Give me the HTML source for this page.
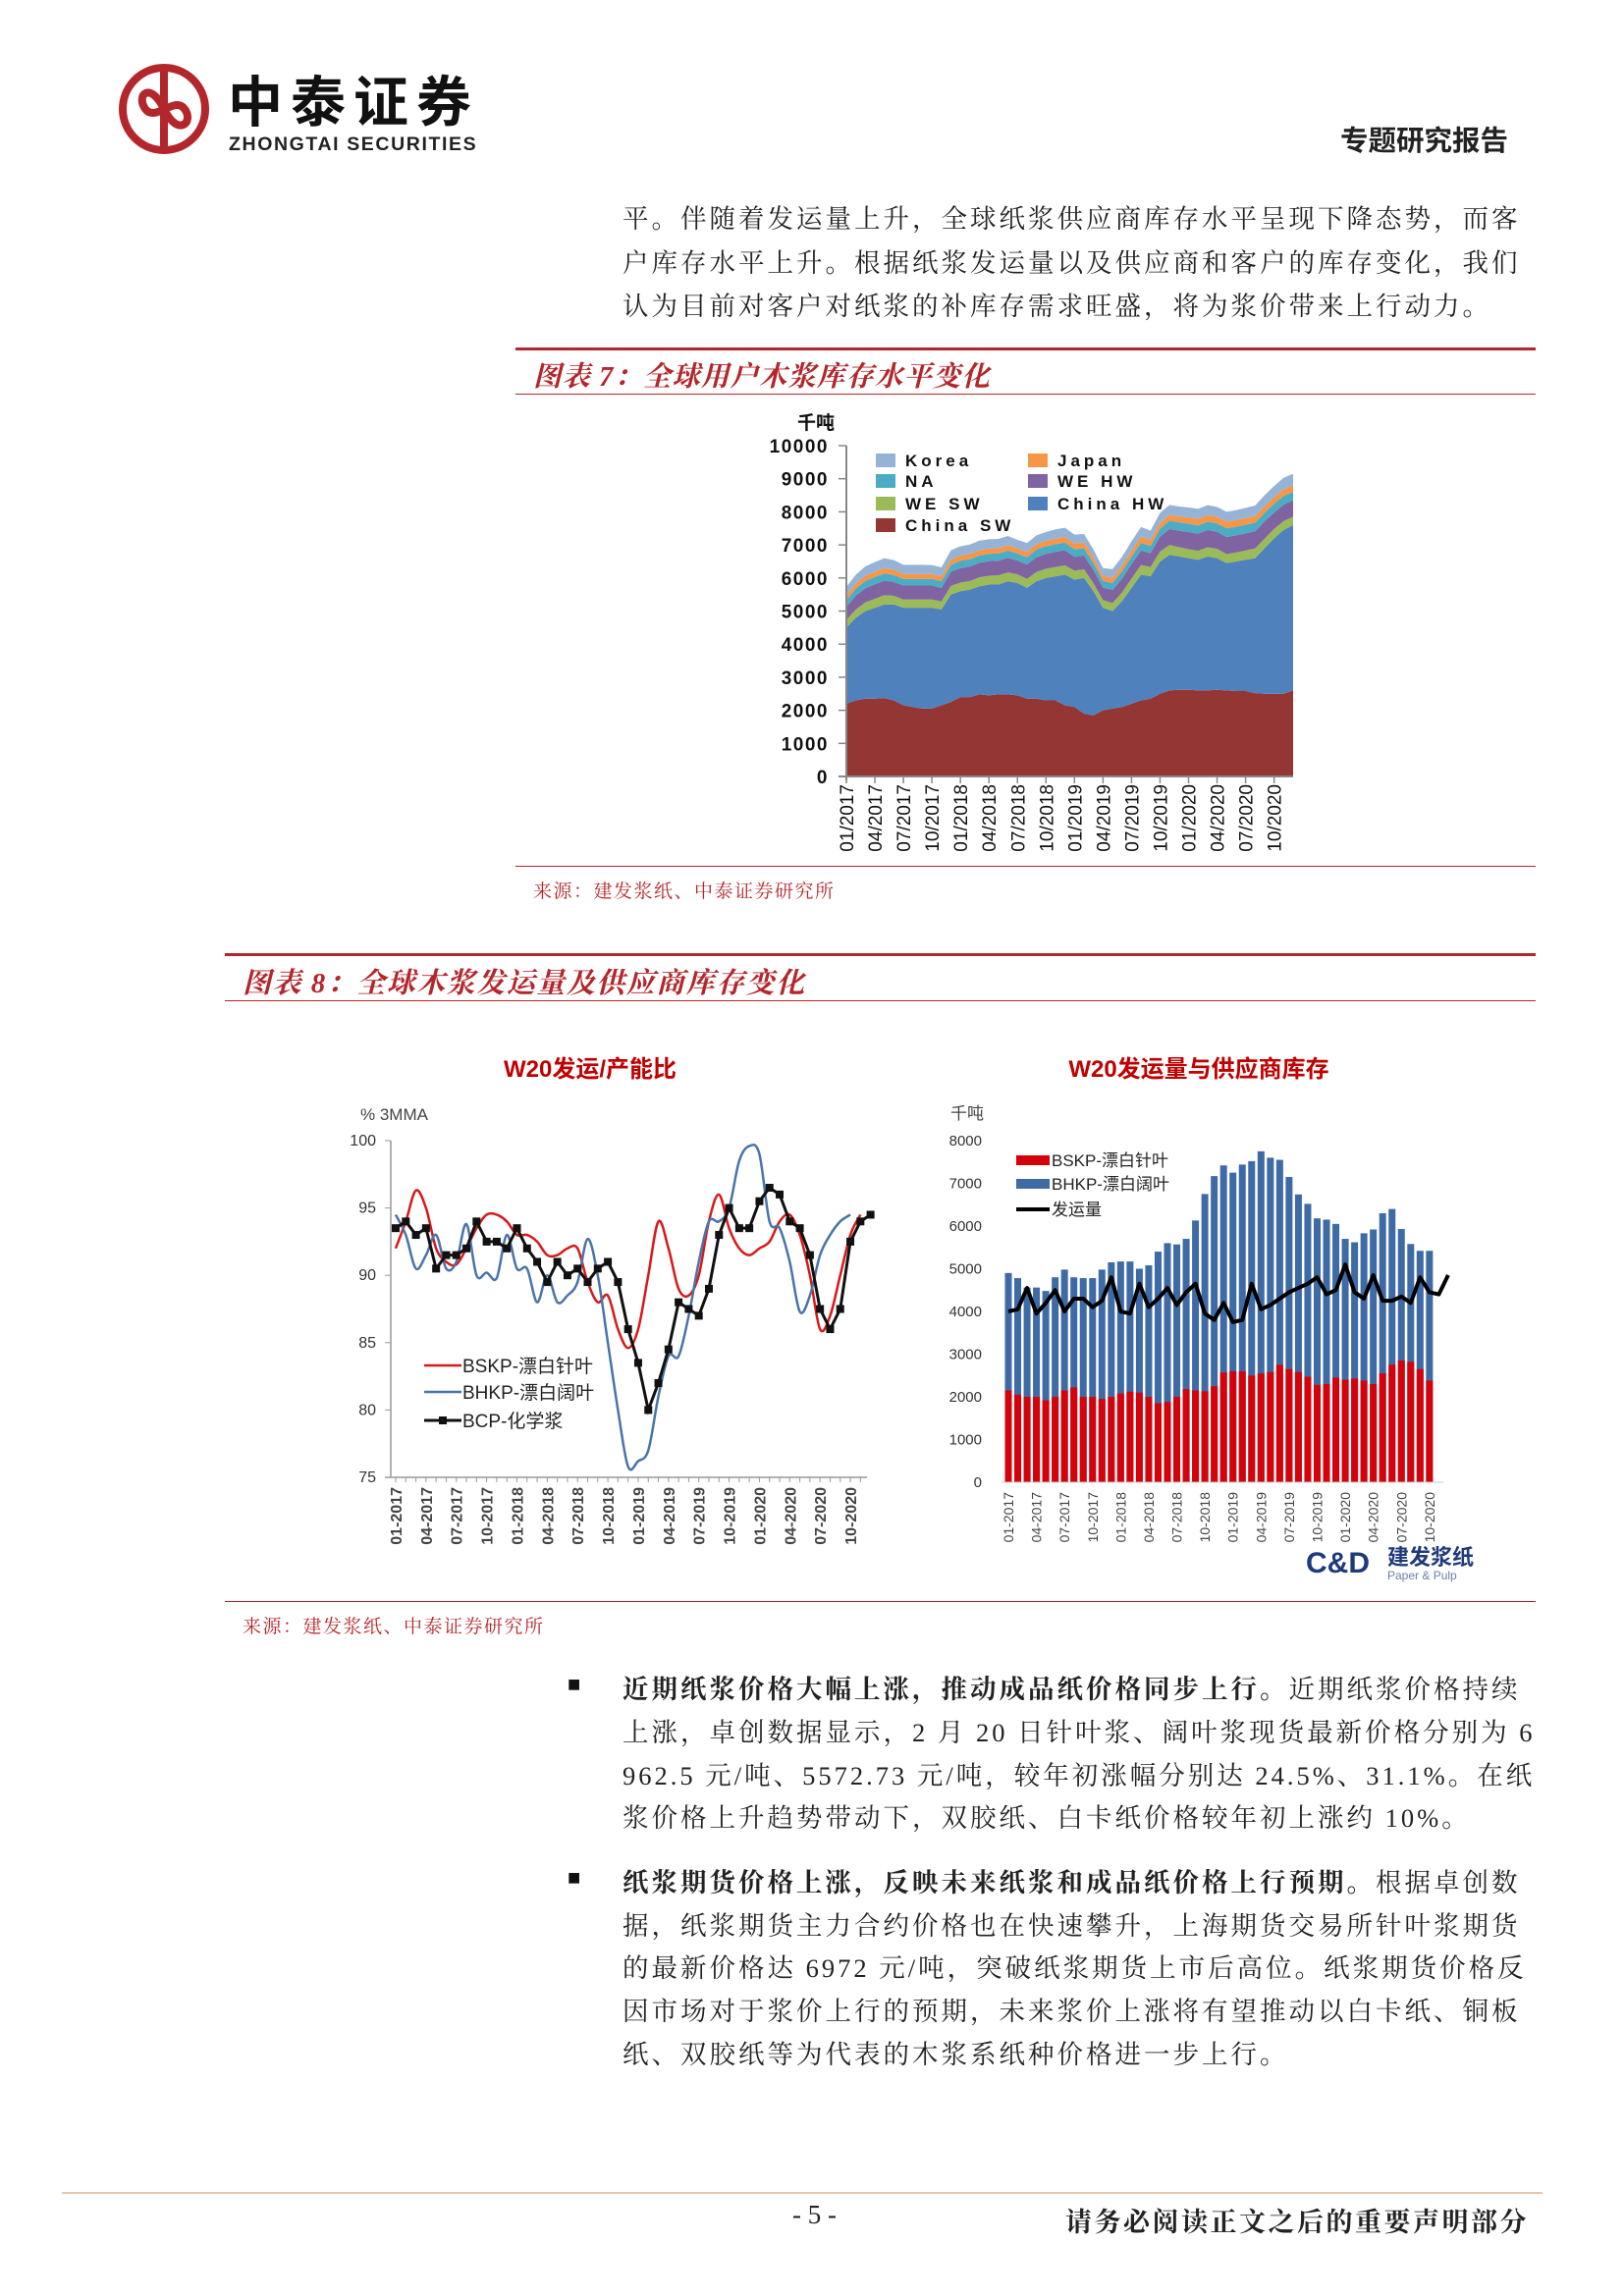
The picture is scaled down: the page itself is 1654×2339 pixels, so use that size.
<!DOCTYPE html>
<html><head><meta charset="utf-8">
<style>
body{margin:0;background:#fff;}
#page{position:relative;width:1654px;height:2339px;overflow:hidden;background:#fff;font-family:"Liberation Serif","Noto Serif CJK SC",serif;color:#222;}
.abs{position:absolute;white-space:nowrap;}
.body{font-size:26.5px;letter-spacing:3px;color:#222;}
.ft{font-family:"Liberation Sans","Noto Sans CJK SC",sans-serif;}
svg text{font-family:"Liberation Sans","Noto Sans CJK SC",sans-serif;}
</style></head><body>
<div id="page">
<svg class="abs" style="left:118px;top:62px" width="100" height="100">
<circle cx="49" cy="49" r="42" fill="none" stroke="#b3262b" stroke-width="8"/>
<path d="M49 10 V88 M49 49 C35 20 20 35 30 49 C40 63 60 35 70 49 C80 63 63 78 49 49" fill="none" stroke="#b3262b" stroke-width="8"/>
</svg>
<div class="abs ft" style="left:232px;top:60px;font-size:56px;font-weight:bold;color:#111;letter-spacing:8px">中泰证券</div>
<div class="abs ft" style="left:233px;top:136px;font-size:19.5px;font-weight:bold;color:#222;letter-spacing:1.6px">ZHONGTAI SECURITIES</div>
<div class="abs ft" style="left:1365px;top:121px;font-size:28.5px;font-weight:bold;color:#222">专题研究报告</div>

<div class="abs body" style="left:634px;top:201px">平。伴随着发运量上升，全球纸浆供应商库存水平呈现下降态势，而客</div>
<div class="abs body" style="left:634px;top:246px">户库存水平上升。根据纸浆发运量以及供应商和客户的库存变化，我们</div>
<div class="abs body" style="left:634px;top:290px">认为目前对客户对纸浆的补库存需求旺盛，将为浆价带来上行动力。</div>

<div class="abs" style="left:525px;top:354px;width:1039px;height:3px;background:#b3262b"></div>
<div class="abs" style="left:543px;top:361px;font-size:28.5px;font-weight:bold;font-style:italic;color:#b3262b;letter-spacing:1px">图表 7：全球用户木浆库存水平变化</div>
<div class="abs" style="left:525px;top:401px;width:1039px;height:1px;background:#b3262b"></div>
<svg id="c7" class="abs" style="left:0;top:0" width="1654" height="900"></svg>
<div class="abs" style="left:525px;top:882px;width:1039px;height:1px;background:#b3262b"></div>
<div class="abs" style="left:543px;top:893px;font-size:19px;letter-spacing:1.5px;color:#b3262b">来源：建发浆纸、中泰证券研究所</div>

<div class="abs" style="left:229px;top:971px;width:1335px;height:3px;background:#b3262b"></div>
<div class="abs" style="left:247px;top:979px;font-size:29px;font-weight:bold;font-style:italic;color:#b3262b;letter-spacing:1.5px">图表 8：全球木浆发运量及供应商库存变化</div>
<div class="abs" style="left:229px;top:1019px;width:1335px;height:1px;background:#b3262b"></div>
<svg id="c8" class="abs" style="left:0;top:0" width="1654" height="1640"></svg>
<div class="abs" style="left:229px;top:1631px;width:1335px;height:1px;background:#b3262b"></div>
<div class="abs" style="left:247px;top:1642px;font-size:19px;letter-spacing:1.5px;color:#b3262b">来源：建发浆纸、中泰证券研究所</div>

<div class="abs ft" style="left:578px;top:1703px;font-size:22px;color:#111">■</div>
<div class="abs body" style="left:634px;top:1699px"><b>近期纸浆价格大幅上涨，推动成品纸价格同步上行。</b>近期纸浆价格持续</div>
<div class="abs body" style="left:634px;top:1743px">上涨，卓创数据显示，2 月 20 日针叶浆、阔叶浆现货最新价格分别为 6</div>
<div class="abs body" style="left:634px;top:1787px">962.5 元/吨、5572.73 元/吨，较年初涨幅分别达 24.5%、31.1%。在纸</div>
<div class="abs body" style="left:634px;top:1830px">浆价格上升趋势带动下，双胶纸、白卡纸价格较年初上涨约 10%。</div>
<div class="abs ft" style="left:578px;top:1900px;font-size:22px;color:#111">■</div>
<div class="abs body" style="left:634px;top:1896px"><b>纸浆期货价格上涨，反映未来纸浆和成品纸价格上行预期。</b>根据卓创数</div>
<div class="abs body" style="left:634px;top:1940px">据，纸浆期货主力合约价格也在快速攀升，上海期货交易所针叶浆期货</div>
<div class="abs body" style="left:634px;top:1983px">的最新价格达 6972 元/吨，突破纸浆期货上市后高位。纸浆期货价格反</div>
<div class="abs body" style="left:634px;top:2027px">因市场对于浆价上行的预期，未来浆价上涨将有望推动以白卡纸、铜板</div>
<div class="abs body" style="left:634px;top:2071px">纸、双胶纸等为代表的木浆系纸种价格进一步上行。</div>

<div class="abs" style="left:63px;top:2233px;width:1508px;height:2px;background:#e8c8a8"></div>
<div class="abs" style="left:807px;top:2241px;font-size:27px">- 5 -</div>
<div class="abs" style="left:1085px;top:2242px;font-size:27px;font-weight:bold;letter-spacing:2.5px">请务必阅读正文之后的重要声明部分</div>
</div>
<script>
const NS="http://www.w3.org/2000/svg";
function mk(p,tag,at,txt){const e=document.createElementNS(NS,tag);for(const k in at)e.setAttribute(k,at[k]);if(txt!==undefined)e.textContent=txt;p.appendChild(e);return e;}
// ---------- Figure 7 data ----------
const c7Series=["China SW","China HW","WE SW","WE HW","NA","Japan","Korea"];
const c7Colors=["#943634","#4f81bd","#9bbb59","#8064a2","#4bacc6","#f79646","#95b3d7"];
const chinaSW=[2200,2300,2350,2350,2370,2300,2150,2100,2050,2050,2150,2250,2400,2400,2480,2450,2480,2480,2450,2350,2350,2300,2300,2150,2100,1900,1850,2000,2050,2100,2200,2300,2350,2500,2600,2620,2620,2600,2600,2620,2600,2580,2580,2520,2500,2500,2500,2600];
const chinaHW=[2300,2500,2650,2750,2830,2900,2950,3000,3050,3050,2900,3250,3200,3250,3270,3350,3320,3420,3400,3350,3550,3700,3750,3950,3850,4100,3750,3100,2950,3200,3500,3800,3700,4000,4100,4030,3980,3950,4050,3980,3850,3920,3970,4080,4400,4700,4950,5000];
const weSW=[230,250,260,270,280,260,250,250,250,250,240,260,260,260,270,270,280,270,260,270,280,280,280,280,270,260,240,230,240,260,280,290,280,300,300,280,270,270,280,280,270,270,280,290,290,280,270,250];
const weHW=[400,420,430,440,440,420,420,420,420,420,410,430,440,440,440,440,440,440,420,440,450,450,460,460,420,420,400,380,400,420,440,440,420,450,480,500,520,520,520,520,520,520,520,520,520,500,500,500];
const naV=[200,210,220,220,220,210,200,200,200,200,200,210,220,220,220,220,220,220,210,220,230,230,230,230,230,220,210,200,210,220,230,230,220,240,250,250,250,250,250,250,260,260,260,260,260,260,260,250];
const japanV=[150,150,160,160,160,160,150,150,150,150,150,160,160,160,160,160,160,160,150,160,160,160,170,170,170,170,160,150,160,170,180,190,180,180,180,180,190,200,200,200,200,200,200,200,200,200,200,200];
const koreaV=[250,270,280,290,300,290,280,280,280,270,270,280,280,280,290,280,280,280,260,270,270,270,280,280,270,260,250,240,260,270,280,290,280,300,300,300,300,300,300,300,300,300,310,320,330,340,350,350];
const c7Ticks=[0,1000,2000,3000,4000,5000,6000,7000,8000,9000,10000];
const c7Labels=["01/2017","04/2017","07/2017","10/2017","01/2018","04/2018","07/2018","10/2018","01/2019","04/2019","07/2019","10/2019","01/2020","04/2020","07/2020","10/2020"];
(function(){
 const s=document.getElementById('c7');
 const X0=862,X1=1317,Y0=791,Y1=454;
 const n=chinaSW.length;
 const x=i=>X0+i*(X1-X0)/(n-1);
 const y=v=>Y0-(v/10000)*(Y0-Y1);
 const layers=[chinaSW,chinaHW,weSW,weHW,naV,japanV,koreaV];
 let base=new Array(n).fill(0);
 layers.forEach((L,k)=>{
  const top=base.map((b,i)=>b+L[i]);
  let d="M"+x(0)+","+y(top[0]);
  for(let i=1;i<n;i++)d+=" L"+x(i)+","+y(top[i]);
  for(let i=n-1;i>=0;i--)d+=" L"+x(i)+","+y(base[i]);
  const p=mk(s,'path',{d:d+"Z",fill:c7Colors[k]});
  
  
  base=top;
 });
 mk(s,'line',{x1:X0,y1:Y1,x2:X0,y2:Y0+4,stroke:'#888','stroke-width':2});
 mk(s,'line',{x1:X0-8,y1:Y0,x2:X1,y2:Y0,stroke:'#888','stroke-width':2});
 c7Ticks.forEach(v=>{
  mk(s,'line',{x1:X0-8,y1:y(v),x2:X0,y2:y(v),stroke:'#888','stroke-width':1.5});
  const t=mk(s,'text',{x:X0-18,y:y(v)+7,'text-anchor':'end','font-size':19,'font-weight':'bold','letter-spacing':1.5,fill:'#111'},String(v));
  
  
 });
 c7Labels.forEach((lb,j)=>{
  const xi=x(j*3);
  mk(s,'line',{x1:xi,y1:Y0,x2:xi,y2:Y0+7,stroke:'#888','stroke-width':1.5});
  const t=mk(s,'text',{x:0,y:0,transform:`translate(${xi+7},${Y0+8}) rotate(-90)`,'text-anchor':'end','font-size':19,fill:'#111'},lb);
  
  
 });
 const u=mk(s,'text',{x:812,y:437,'font-size':19,'font-weight':'bold',fill:'#111'},'千吨');
 
 
 const leg=[[6,892,469],[5,1047,469],[4,892,490],[3,1047,490],[2,892,513],[1,1047,513],[0,892,535]];
 leg.forEach(([k,lx,ly])=>{
  mk(s,'rect',{x:lx,y:ly-7,width:20,height:14,fill:c7Colors[k]});
  const t=mk(s,'text',{x:lx+30,y:ly+6,'font-size':17,'font-weight':'bold','letter-spacing':4,fill:'#111'},c7Series[k]);
  
  
 });
})();
// ---------- Figure 8 left data ----------
const bskpRatio=[92,94,96.3,95,92,91,90.8,92,93.5,94.5,94.5,94,93,93,92.5,91.5,91.5,92,92,89.5,88,88.5,86,84.6,86,90,94,92,89,88.5,90,94,96,93.5,92,91.5,92,92.5,94,94.5,93,90,86,87,90,93,94.5];
const bhkpRatio=[94.5,93,90.5,91.5,93,90.5,91,93.8,90,90.2,89.8,93,90.5,90.5,88,90,88,88.5,89.5,92.7,90,85,80,75.8,76.2,77,81,84,84,87,91,94,94,95,98.5,99.6,99,94,93.5,91,87.3,88.5,91.5,93,94,94.5];
const bcpRatio=[93.5,94,93,93.5,90.5,91.5,91.5,92,94,92.5,92.5,92,93.5,92,91,89.5,91,90,90.5,89.5,90.5,91,89.5,86,83.5,80,82,84.5,88,87.5,87,89,93,95,93.5,93.5,95.5,96.5,96,94,93.5,91.5,87.5,86,87.5,92.5,94,94.5];
const ratioTicks=[75,80,85,90,95,100];
const monthLabels=["01-2017","04-2017","07-2017","10-2017","01-2018","04-2018","07-2018","10-2018","01-2019","04-2019","07-2019","10-2019","01-2020","04-2020","07-2020","10-2020"];
// ---------- Figure 8 right data ----------
const bskpStock=[2150,2050,2000,2000,1920,2000,2150,2220,2000,2000,1950,2000,2080,2120,2100,2000,1850,1880,2000,2180,2150,2130,2250,2570,2600,2600,2500,2550,2580,2750,2650,2580,2470,2280,2300,2450,2400,2430,2380,2300,2550,2750,2850,2820,2650,2380];
const totalStock=[4900,4780,4560,4560,4480,4800,4980,4800,4780,4780,4980,5150,5170,5170,5000,5080,5400,5600,5570,5700,6130,6750,7170,7420,7250,7440,7520,7750,7600,7550,7150,6740,6520,6180,6150,6050,5700,5620,5830,5920,6300,6400,5930,5580,5420,5420];
const shipments=[4000,4050,4550,3950,4200,4500,4000,4300,4300,4100,4250,4800,4000,3950,4650,4100,4300,4550,4150,4450,4650,3950,3800,4200,3750,3800,4650,4050,4150,4300,4450,4550,4650,4800,4400,4500,5100,4450,4300,4850,4250,4250,4350,4200,4800,4450,4400,4850];
const stockTicks=[0,1000,2000,3000,4000,5000,6000,7000,8000];
(function(){
 const s=document.getElementById('c8');
 // left chart
 const X0=398,X1=883,Y0=1505,Y1=1162,m0=403,dm=10.29;
 const xm=i=>m0+i*dm;
 const y=v=>Y0-(v-75)/25*(Y0-Y1);
 const tt=mk(s,'text',{x:601,y:1097,'text-anchor':'middle','font-size':24,'font-weight':'bold',fill:'#c00000'},'W20发运/产能比');
 
 
 const un=mk(s,'text',{x:367,y:1141,'font-size':17,fill:'#444'},'% 3MMA');
 
 
 mk(s,'line',{x1:X0,y1:Y1,x2:X0,y2:Y0,stroke:'#999','stroke-width':1.5});
 mk(s,'line',{x1:X0-6,y1:Y0,x2:X1,y2:Y0,stroke:'#999','stroke-width':1.5});
 for(let i=0;i<47;i++)mk(s,'line',{x1:xm(i),y1:Y0,x2:xm(i),y2:Y0+5,stroke:'#999'});
 ratioTicks.forEach(v=>{
  mk(s,'line',{x1:X0-6,y1:y(v),x2:X0,y2:y(v),stroke:'#999'});
  const t=mk(s,'text',{x:X0-15,y:y(v)+5,'text-anchor':'end','font-size':16,fill:'#333'},String(v));
  
  
 });
 monthLabels.forEach((lb,j)=>{
  const t=mk(s,'text',{x:0,y:0,transform:`translate(${xm(j*3)+6},${Y0+10}) rotate(-90)`,'text-anchor':'end','font-size':16,'font-weight':'bold',fill:'#444'},lb);
  
  
 });
 function smooth(arr){
  const P=arr.map((v,i)=>[xm(i),y(v)]);
  let d="M"+P[0][0]+","+P[0][1];
  for(let i=0;i<P.length-1;i++){
   const p0=P[Math.max(0,i-1)],p1=P[i],p2=P[i+1],p3=P[Math.min(P.length-1,i+2)];
   d+=` C${p1[0]+(p2[0]-p0[0])/6},${p1[1]+(p2[1]-p0[1])/6} ${p2[0]-(p3[0]-p1[0])/6},${p2[1]-(p3[1]-p1[1])/6} ${p2[0]},${p2[1]}`;
  }
  return d;
 }
 const r1=mk(s,'path',{d:smooth(bskpRatio),fill:'none',stroke:'#d7191c','stroke-width':2.5});
 
 
 const r2=mk(s,'path',{d:smooth(bhkpRatio),fill:'none',stroke:'#4a74a8','stroke-width':2.5});
 
 
 const r3=mk(s,'polyline',{points:bcpRatio.map((v,i)=>xm(i)+","+y(v)).join(" "),fill:'none',stroke:'#111','stroke-width':3});
 
 
 bcpRatio.forEach((v,i)=>{
  const m=mk(s,'rect',{x:xm(i)-4,y:y(v)-4,width:8,height:8,fill:'#111'});
  
  
 });
 const lg=[['BSKP-漂白针叶','#d7191c',1391],['BHKP-漂白阔叶','#4a74a8',1418],['BCP-化学浆','#111',1447]];
 lg.forEach(([n,c,ly],k)=>{
  mk(s,'line',{x1:432,y1:ly,x2:470,y2:ly,stroke:c,'stroke-width':k==2?3:2.5});
  if(k==2)mk(s,'rect',{x:447,y:ly-4,width:8,height:8,fill:'#111'});
  const t=mk(s,'text',{x:471,y:ly+7,'font-size':19,fill:'#222'},n);
  
  
 });
 // right chart
 const RX0=1005,RY0=1510,RY1=1162,b0=1027,bd=9.53;
 const ry=v=>RY0-v/8000*(RY0-RY1);
 const rt=mk(s,'text',{x:1221,y:1097,'text-anchor':'middle','font-size':24,'font-weight':'bold',fill:'#c00000'},'W20发运量与供应商库存');
 
 
 const ru=mk(s,'text',{x:968,y:1140,'font-size':17,fill:'#444'},'千吨');
 
 
 stockTicks.forEach(v=>{
  const t=mk(s,'text',{x:1000,y:ry(v)+5,'text-anchor':'end','font-size':15,fill:'#333'},String(v));
  
  
 });
 totalStock.forEach((v,i)=>{
  const bx=b0+i*bd-3.5;
  const b=mk(s,'rect',{x:bx,y:ry(v),width:7,height:ry(0)-ry(v),fill:'#3e6aa5'});
  
  
  const r=mk(s,'rect',{x:bx,y:ry(bskpStock[i]),width:7,height:ry(0)-ry(bskpStock[i]),fill:'#d4020a'});
  
  
 });
 mk(s,'line',{x1:1020,y1:RY0,x2:1470,y2:RY0,stroke:'#ccc'});
 const sl=mk(s,'polyline',{points:shipments.map((v,i)=>(b0+i*bd)+","+ry(v)).join(" "),fill:'none',stroke:'#000','stroke-width':4,'stroke-linejoin':'round'});
 
 
 monthLabels.forEach((lb,j)=>{
  const t=mk(s,'text',{x:0,y:0,transform:`translate(${b0+j*3*bd+5},${RY0+10}) rotate(-90)`,'text-anchor':'end','font-size':14,fill:'#444'},lb);
  
  
 });
 const rl=[['BSKP-漂白针叶','#d4020a',1182],['BHKP-漂白阔叶','#3e6aa5',1206],['发运量','#000',1232]];
 rl.forEach(([n,c,ly],k)=>{
  if(k<2)mk(s,'rect',{x:1035,y:ly-5,width:34,height:10,fill:c});
  else mk(s,'line',{x1:1035,y1:ly,x2:1069,y2:ly,stroke:'#000','stroke-width':4});
  const t=mk(s,'text',{x:1071,y:ly+6,'font-size':17,fill:'#222'},n);
  
  
 });
 const lo=mk(s,'text',{x:1330,y:1602,'font-size':30,'font-weight':'bold',fill:'#1f3a7a'},'C&D');
 
 
 const l2=mk(s,'text',{x:1413,y:1594,'font-size':22,'font-weight':'bold',fill:'#1f3a7a'},'建发浆纸');
 
 
 const l3=mk(s,'text',{x:1413,y:1609,'font-size':12,fill:'#6b7fa8'},'Paper & Pulp');
 
 
})();
</script>
</body></html>
